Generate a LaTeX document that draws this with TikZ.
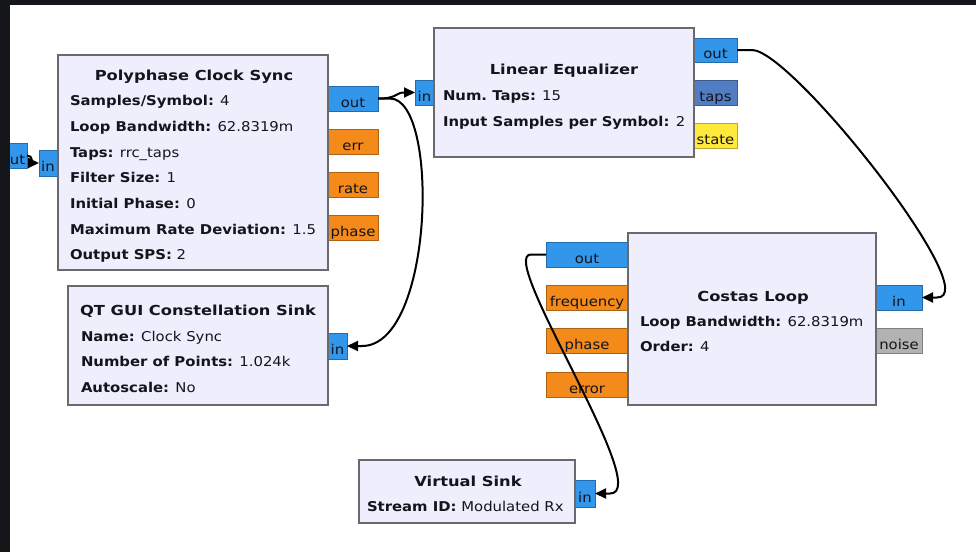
\documentclass[tikz,border=0pt]{standalone}
\usepackage{fontspec}
\setmainfont{DejaVu Sans}[FakeStretch=1.1]
\newfontfamily\titlefont{DejaVu Sans}[FakeStretch=1.18]
\usetikzlibrary{arrows.meta,calc}

\definecolor{edge}{RGB}{20,22,25}
\definecolor{blockfill}{RGB}{239,238,252}
\definecolor{blockline}{RGB}{105,105,110}
\definecolor{inktext}{RGB}{20,20,28}
\definecolor{pblue}{RGB}{50,150,235}
\definecolor{ptaps}{RGB}{80,125,195}
\definecolor{porange}{RGB}{243,138,25}
\definecolor{pyellow}{RGB}{255,234,60}
\definecolor{pgray}{RGB}{178,178,178}

\newcommand{\blk}[1]{\textbf{#1}}
\newcommand{\portbox}[7]{% name, colour, x1, y1, x2, y2, label
  \node[port=#2, minimum width=#5-#3, minimum height=#6-#4, anchor=north west]
    (#1) at (#3,#4) {#7};}
\newcommand{\blockbox}[5]{% name, x1, y1, x2, y2
  \node[block, minimum width=#4-#2, minimum height=#5-#3, anchor=north west]
    (#1) at (#2,#3) {};}

\begin{document}
\begin{tikzpicture}[x=1pt,y=-1pt,
  every node/.style={inner sep=0pt, outer sep=0pt},
  fnt/.style={font=\fontsize{13.5}{16}\selectfont, text=inktext},
  block/.style={draw=blockline, line width=2pt, fill=blockfill},
  title/.style={fnt, anchor=base, font=\titlefont\fontsize{13.8}{16}\selectfont\bfseries},
  param/.style={fnt, anchor=base west},
  port/.style={fnt, draw=#1!72!black, fill=#1, line width=1pt,
    text height=17pt, text depth=0pt},
  wire/.style={draw=black, line width=2pt,
    -{Triangle[length=11pt,width=10pt]}},
]
\useasboundingbox (0,0) rectangle (976,552);
\fill[white] (0,0) rectangle (976,552);

% ---- ports (drawn below the block frames) ----
\portbox{ext-out}{pblue}{8}{143}{27}{168}{ut}
\portbox{pcs-in}{pblue}{39}{150}{57}{176}{in}
\portbox{pcs-out}{pblue}{328}{86}{378}{111}{out}
\portbox{pcs-err}{porange}{328}{129}{378}{154}{err}
\portbox{pcs-rate}{porange}{328}{172}{378}{197}{rate}
\portbox{pcs-phase}{porange}{328}{215}{378}{240}{phase}
\portbox{le-in}{pblue}{415}{80}{434}{105}{in}
\portbox{le-out}{pblue}{694}{38}{737}{62}{out}
\portbox{le-taps}{ptaps}{694}{80}{737}{105}{taps}
\portbox{le-state}{pyellow}{694}{123}{737}{148}{state}
\portbox{cl-out}{pblue}{546}{242}{628}{267}{out}
\portbox{cl-freq}{porange}{546}{285}{628}{310}{frequency}
\portbox{cl-phase}{porange}{546}{328}{628}{353}{phase}
\portbox{cl-error}{porange}{546}{372}{628}{397}{error}
\portbox{cl-in}{pblue}{876}{285}{922}{310}{in}
\portbox{cl-noise}{pgray}{876}{328}{922}{353}{noise}
\portbox{qt-in}{pblue}{328}{333}{347}{359}{in}
\portbox{vs-in}{pblue}{575}{480}{595}{507}{in}

% ---- blocks ----
\blockbox{pcs}{58}{55}{328}{270}
\blockbox{le}{434}{28}{694}{157}
\blockbox{cl}{628}{233}{876}{405}
\blockbox{qt}{68}{286}{328}{405}
\blockbox{vs}{359}{460}{575}{523}

% Polyphase Clock Sync
\node[title] (pcs-t) at (194,80) {Polyphase Clock Sync};
\node[param] (pcs-p1) at (70,105.7) {\blk{Samples/Symbol:} 4};
\node[param] (pcs-p2) at (70,131.4) {\blk{Loop Bandwidth:} 62.8319m};
\node[param] (pcs-p3) at (70,157.1) {\blk{Taps:} rrc\_taps};
\node[param] (pcs-p4) at (70,182.8) {\blk{Filter Size:} 1};
\node[param] (pcs-p5) at (70,208.5) {\blk{Initial Phase:} 0};
\node[param] (pcs-p6) at (70,234.2) {\blk{Maximum Rate Deviation:} 1.5};
\node[param] (pcs-p7) at (70,259.9) {\blk{Output SPS:} 2};

% Linear Equalizer
\node[title] (le-t) at (564,74) {Linear Equalizer};
\node[param] (le-p1) at (443,100) {\blk{Num.\ Taps:} 15};
\node[param] (le-p2) at (443,126) {\blk{Input Samples per Symbol:} 2};

% Costas Loop
\node[title] (cl-t) at (753,301) {Costas Loop};
\node[param] (cl-p1) at (640,326.7) {\blk{Loop Bandwidth:} 62.8319m};
\node[param] (cl-p2) at (640,351.7) {\blk{Order:} 4};

% QT GUI Constellation Sink
\node[title] (qt-t) at (198,315) {QT GUI Constellation Sink};
\node[param] (qt-p1) at (81,341) {\blk{Name:} Clock Sync};
\node[param] (qt-p2) at (81,366.5) {\blk{Number of Points:} 1.024k};
\node[param] (qt-p3) at (81,392) {\blk{Autoscale:} No};

% Virtual Sink
\node[title] (vs-t) at (468,486.7) {Virtual Sink};
\node[param] (vs-p1) at (367,511.7) {\blk{Stream ID:} Modulated Rx};

% ---- connections ----
\draw[wire] (ext-out.east) .. controls +(6,0) and +(-6,0) .. (pcs-in.west);
\draw[wire] (pcs-out.east) .. controls +(20,0) and +(-20,0) .. (le-in.west);
\draw[wire] (pcs-out.east) -- ++(12,0) .. controls +(50,0) and +(72,0) .. ($(qt-in.east)+(15,0)$) -- (qt-in.east);
\draw[wire] (le-out.east) -- ++(15,0) .. controls +(40,0) and +(50,0) .. ($(cl-in.east)+(15,0)$) -- (cl-in.east);
\draw[wire] (cl-out.west) -- ++(-15,0) .. controls +(-35,0) and +(45,0) .. ($(vs-in.east)+(15,0)$) -- (vs-in.east);

% dark frame left by the screen capture
\fill[edge] (0,0) rectangle (976,5);
\fill[edge] (0,0) rectangle (10,552);
\end{tikzpicture}
\end{document}
